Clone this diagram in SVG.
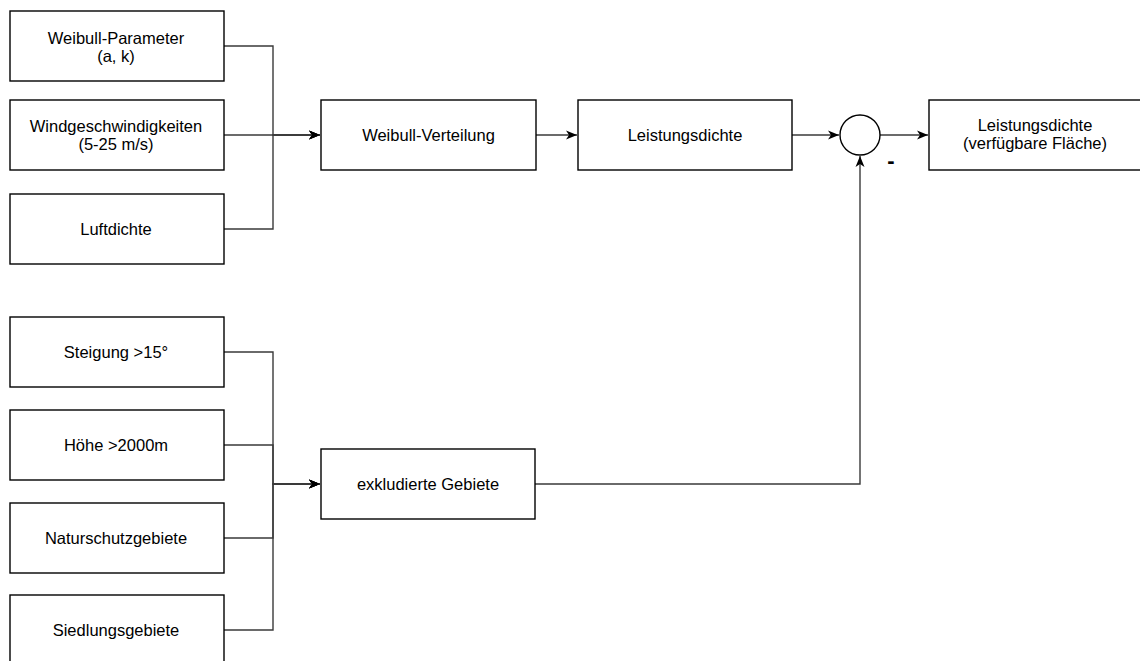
<svg xmlns="http://www.w3.org/2000/svg" width="1140" height="661" viewBox="0 0 1140 661">
<style>
  .box { fill: #ffffff; stroke: #000000; stroke-width: 1.4; }
  .lbl { font-family: "Liberation Sans", Arial, sans-serif; font-size: 16.5px; fill: #000000; text-anchor: middle; }
  .edge { fill: none; stroke: #3a3a3a; stroke-width: 1.4; }
</style>
<defs>
  <marker id="arr" markerUnits="userSpaceOnUse" markerWidth="12" markerHeight="12" refX="11" refY="6" orient="auto">
    <path d="M0,1.5 L11,6 L0,10.5 L3,6 Z" fill="#000000"/>
  </marker>
</defs>
<rect width="1140" height="661" fill="#ffffff"/>
<g id="connectors">
  <path class="edge" d="M224,46 H273 V135 H320" marker-end="url(#arr)"/>
  <path class="edge" d="M224,135 H320" marker-end="url(#arr)"/>
  <path class="edge" d="M224,229 H273 V135 H320" marker-end="url(#arr)"/>
  <path class="edge" d="M536,135 H577" marker-end="url(#arr)"/>
  <path class="edge" d="M792,135 H839" marker-end="url(#arr)"/>
  <path class="edge" d="M880,135 H928" marker-end="url(#arr)"/>
  <path class="edge" d="M535,484 H860 V156" marker-end="url(#arr)"/>
  <path class="edge" d="M224,352 H273 V484 H320" marker-end="url(#arr)"/>
  <path class="edge" d="M224,445 H273 V484 H320" marker-end="url(#arr)"/>
  <path class="edge" d="M224,538 H273 V484 H320" marker-end="url(#arr)"/>
  <path class="edge" d="M224,630 H273 V484 H320" marker-end="url(#arr)"/>
</g>
<g id="weibull-parameter">
  <rect class="box" x="10" y="11" width="214" height="70"/>
  <text class="lbl" x="116" y="44">Weibull-Parameter</text>
  <text class="lbl" x="116" y="62">(a, k)</text>
</g>
<g id="windgeschwindigkeiten">
  <rect class="box" x="10" y="100" width="214" height="70"/>
  <text class="lbl" x="116" y="132">Windgeschwindigkeiten</text>
  <text class="lbl" x="116" y="150">(5-25 m/s)</text>
</g>
<g id="luftdichte">
  <rect class="box" x="10" y="194" width="214" height="70"/>
  <text class="lbl" x="116" y="235">Luftdichte</text>
</g>
<g id="weibull-verteilung">
  <rect class="box" x="321" y="100" width="215" height="70"/>
  <text class="lbl" x="428.5" y="141">Weibull-Verteilung</text>
</g>
<g id="leistungsdichte">
  <rect class="box" x="578" y="100" width="214" height="70"/>
  <text class="lbl" x="685" y="141">Leistungsdichte</text>
</g>
<g id="summation">
  <circle cx="860" cy="135" r="20" fill="#ffffff" stroke="#000000" stroke-width="1.4"/>
  <text x="891" y="168" font-family="Liberation Sans, Arial, sans-serif" font-size="22" font-weight="bold" text-anchor="middle" fill="#000000">-</text>
</g>
<g id="leistungsdichte-flaeche">
  <rect class="box" x="929" y="100" width="215" height="70"/>
  <text class="lbl" x="1035" y="131">Leistungsdichte</text>
  <text class="lbl" x="1035" y="149">(verfügbare Fläche)</text>
</g>
<g id="steigung">
  <rect class="box" x="10" y="317" width="214" height="70"/>
  <text class="lbl" x="116" y="358">Steigung &gt;15°</text>
</g>
<g id="hoehe">
  <rect class="box" x="10" y="410" width="214" height="70"/>
  <text class="lbl" x="116" y="451">Höhe &gt;2000m</text>
</g>
<g id="naturschutzgebiete">
  <rect class="box" x="10" y="503" width="214" height="70"/>
  <text class="lbl" x="116" y="544">Naturschutzgebiete</text>
</g>
<g id="siedlungsgebiete">
  <rect class="box" x="10" y="595" width="214" height="70"/>
  <text class="lbl" x="116" y="636">Siedlungsgebiete</text>
</g>
<g id="exkludierte-gebiete">
  <rect class="box" x="321" y="449" width="214" height="70"/>
  <text class="lbl" x="428" y="490">exkludierte Gebiete</text>
</g>
</svg>
